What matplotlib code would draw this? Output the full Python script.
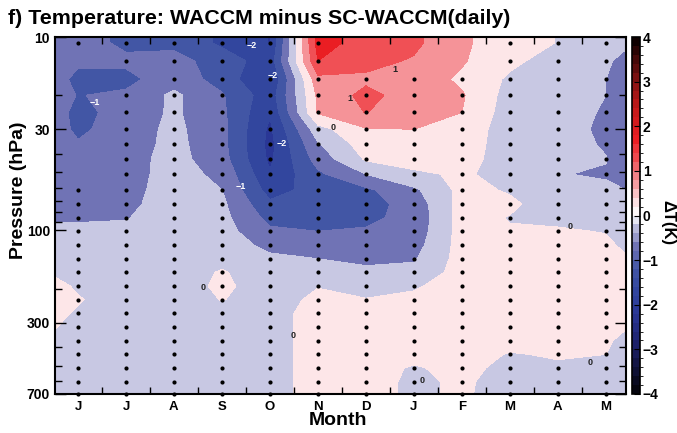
import numpy as np
import matplotlib
matplotlib.use("Agg")
import matplotlib.pyplot as plt
from matplotlib.colors import LinearSegmentedColormap, BoundaryNorm, Normalize
from matplotlib.cm import ScalarMappable
from matplotlib.ticker import NullFormatter, FixedLocator

plt.rcParams["font.family"] = ["Liberation Sans", "DejaVu Sans"]
plt.rcParams["font.weight"] = "bold"

months = ["J", "J", "A", "S", "O", "N", "D", "J", "F", "M", "A", "M"]
pres = [10.7, 13.3, 16.5, 20.0, 24.5, 30.0, 35.8, 42.9, 51.2, 61.8, 73.0, 86.0, 101.0,
        119.0, 140.0, 164.0, 194.0, 228.0, 268.0, 316.0, 372.0, 437.0, 514.0, 604.0, 700.0]
x_edges = [-0.48, 11.42]

# dT (K) for each column, top (10 hPa) to bottom (700 hPa)
edge_l = [-0.7, -0.75, -0.8, -0.8, -0.8, -0.8, -0.75, -0.75, -0.75, -0.7, -0.7, -0.55, -0.4,
          -0.3, -0.25, -0.05, 0.1, 0.15, 0.1, 0.02, -0.15, -0.2, -0.2, -0.2, -0.2]
jun = [-0.8, -0.9, -1.15, -1.02, -1.15, -1.1, -0.95, -0.8, -0.75, -0.7, -0.65, -0.55, -0.4,
       -0.3, -0.25, -0.2, -0.05, 0.03, -0.05, -0.2, -0.25, -0.25, -0.25, -0.25, -0.25]
jul = [-1.1, -0.9, -1.15, -0.9, -0.8, -0.75, -0.75, -0.7, -0.7, -0.65, -0.6, -0.52, -0.4,
       -0.3, -0.3, -0.3, -0.3, -0.2, -0.3, -0.3, -0.3, -0.3, -0.3, -0.3, -0.3]
aug = [-1.1, -0.85, -0.7, -0.4, -0.42, -0.38, -0.35, -0.32, -0.3, -0.3, -0.3, -0.3, -0.3,
       -0.3, -0.3, -0.3, -0.3, -0.3, -0.3, -0.3, -0.3, -0.3, -0.3, -0.3, -0.3]
sep = [-1.6, -1.2, -1.2, -0.95, -0.9, -0.85, -0.85, -0.8, -0.62, -0.5, -0.4, -0.35, -0.3,
       -0.3, -0.2, 0.05, 0.12, 0.02, -0.2, -0.25, -0.25, -0.25, -0.25, -0.25, -0.25]
octo = [-2.02, -1.8, -2.05, -1.8, -1.95, -2.1, -2.15, -2.1, -1.95, -1.7, -1.4, -1.15, -0.9,
        -0.6, -0.42, -0.35, -0.3, -0.25, -0.2, -0.2, -0.2, -0.2, -0.2, -0.2, -0.2]
nov = [1.7, 1.5, 0.85, 0.6, 0.55, -0.2, -0.55, -0.8, -1.1, -1.3, -1.35, -1.25, -1.0,
       -0.8, -0.5, -0.25, -0.02, 0.12, 0.2, 0.2, 0.2, 0.2, 0.2, 0.2, 0.2]
dec = [1.3, 1.15, 0.9, 1.15, 1.02, 0.45, 0.25, 0.05, -0.5, -1.1, -1.2, -1.1, -0.95,
       -0.75, -0.6, -0.4, -0.15, 0.02, 0.2, 0.2, 0.2, 0.2, 0.2, 0.2, 0.2]
jan = [1.1, 0.95, 0.8, 0.75, 0.6, 0.5, 0.3, 0.2, -0.1, -0.6, -0.8, -0.85, -0.8,
       -0.7, -0.55, -0.35, -0.05, 0.1, 0.15, 0.15, 0.15, 0.15, -0.05, -0.1, -0.1]
feb = [0.6, 0.55, 0.4, 0.55, 0.5, 0.3, 0.25, 0.2, 0.08, 0.15, 0.2, 0.2, 0.2,
       0.2, 0.2, 0.2, 0.2, 0.2, 0.2, 0.2, 0.15, 0.12, 0.15, 0.08, 0.08]
mar = [0.15, 0.1, -0.08, -0.2, -0.25, -0.25, -0.25, -0.25, -0.2, -0.05, 0.1, -0.03, 0.05,
       0.15, 0.15, 0.15, 0.15, 0.15, 0.15, 0.15, 0.1, -0.02, -0.15, -0.2, -0.25]
apr = [-0.01, -0.2, -0.3, -0.3, -0.3, -0.3, -0.3, -0.3, -0.48, -0.35, -0.3, -0.1, 0.05,
       0.15, 0.15, 0.15, 0.15, 0.15, 0.15, 0.15, 0.1, 0.03, -0.05, -0.15, -0.2]
may = [-0.3, -0.45, -0.5, -0.5, -0.55, -0.6, -0.55, -0.48, -0.55, -0.4, -0.3, -0.2, -0.02,
       0.1, 0.1, 0.1, 0.1, 0.1, 0.1, 0.1, 0.05, 0.0, -0.1, -0.2, -0.25]
edge_r = [-0.45, -0.6, -0.75, -0.8, -0.8, -0.8, -0.8, -0.8, -0.75, -0.5, -0.4, -0.35, -0.2,
          -0.1, 0.05, 0.05, 0.05, 0.05, 0.05, 0.02, -0.1, -0.2, -0.2, -0.2, -0.2]

# grid points without significance dots: column index -> rows
no_dot = {0: [1, 2, 3, 4, 5, 6, 7, 8], 1: [2], 6: [0, 1], 7: [0, 1], 8: [0, 1]}

# contour labels: (level, month position, hPa)
labels = [(-2, 3.63, 11.0), (-2, 4.06, 15.9), (-2, 4.25, 35.7), (-1, 0.35, 21.9),
          (-1, 3.4, 59.0), (0, 5.31, 29.2), (1, 6.6, 14.8), (1, 5.67, 20.7),
          (0, 2.6, 198.0), (0, 4.48, 351.0), (0, 10.25, 95.8), (0, 10.67, 479.0),
          (0, 7.17, 593.0)]

Z = np.column_stack([edge_l, jun, jul, aug, sep, octo, nov, dec, jan, feb, mar, apr, may, edge_r])
xg = np.concatenate([[x_edges[0]], np.arange(12), [x_edges[1]]])
# stretch the top row up to the 10 hPa frame edge
pg = np.array([10.0] + pres)
Zg = np.vstack([Z[0], Z])

anchors = [(-4, (5, 5, 15)), (-3, (28, 32, 105)), (-2.25, (42, 55, 150)),
           (-1.75, (50, 70, 158)), (-1.25, (65, 85, 165)), (-0.75, (110, 113, 180)),
           (-0.25, (197, 197, 225)), (0, (255, 255, 255)), (0.25, (253, 233, 235)),
           (0.75, (245, 150, 155)), (1.25, (240, 82, 87)), (1.75, (235, 30, 35)),
           (2.5, (190, 25, 25)), (3, (140, 20, 20)), (4, (15, 0, 0))]
cmap = LinearSegmentedColormap.from_list(
    "dT", [((v + 4) / 8, tuple(c / 255 for c in rgb)) for v, rgb in anchors])

fig = plt.figure(figsize=(6.77, 4.33), dpi=100)
ax = fig.add_axes([0.0812, 0.0901, 0.8435, 0.8244])

ax.contourf(xg, pg, Zg, levels=np.arange(-4, 4.01, 0.5), cmap=cmap, norm=Normalize(-4, 4))

for lev, x, p in labels:
    col = "white" if lev < 0 else "#222222"
    ax.text(x, p, f"{lev}".replace("-", "\u2212"), color=col, fontsize=6.5,
            fontweight="bold", ha="center", va="center", zorder=4)

xx, pp = np.meshgrid(np.arange(12), pres)
mask = np.ones_like(xx, dtype=bool)
for c, rows in no_dot.items():
    mask[rows, c] = False
ax.scatter(xx[mask], pp[mask], s=9, c="k", zorder=3, clip_on=False, linewidths=0)

ax.set_yscale("log")
ax.set_ylim(700, 10)
ax.set_xlim(x_edges)
ax.set_yticks([10, 30, 100, 300, 700])
ax.set_yticklabels(["10", "30", "100", "300", "700"])
ax.yaxis.set_minor_formatter(NullFormatter())
ax.set_xticks(range(12))
ax.set_xticklabels(months)
ax.xaxis.set_minor_locator(FixedLocator(np.arange(0.5, 11, 1)))
ax.tick_params(axis="x", which="major", length=0, labelsize=9.5, pad=5)
ax.tick_params(axis="x", which="minor", direction="in", length=5, top=True, width=1)
ax.tick_params(axis="y", which="both", direction="in", right=True, labelsize=10, width=1)
ax.tick_params(axis="y", which="major", length=8)
ax.tick_params(axis="y", which="minor", length=5)
for s in ax.spines.values():
    s.set_linewidth(1.5)

cax = fig.add_axes([0.9335, 0.0901, 0.0118, 0.8244])
sm = ScalarMappable(norm=BoundaryNorm(np.arange(-4, 4.01, 0.2), 256), cmap=cmap)
cb = fig.colorbar(sm, cax=cax, ticks=range(-4, 5))
cb.outline.set_linewidth(1.2)
cax.tick_params(direction="in", length=4, labelsize=10, pad=2)

fig.text(0.012, 0.958, "f) Temperature: WACCM minus SC-WACCM(daily)", fontsize=15.4,
         fontweight="bold", ha="left", va="center")
fig.text(0.027, 0.561, "Pressure (hPa)", fontsize=14, fontweight="bold", rotation=90,
         ha="center", va="center")
fig.text(0.499, 0.028, "Month", fontsize=14, fontweight="bold", ha="center", va="center")
fig.text(0.987, 0.485, "\u0394T(K)", fontsize=12, fontweight="bold", rotation=270,
         ha="center", va="center")

fig.savefig("out.png", dpi=100)
